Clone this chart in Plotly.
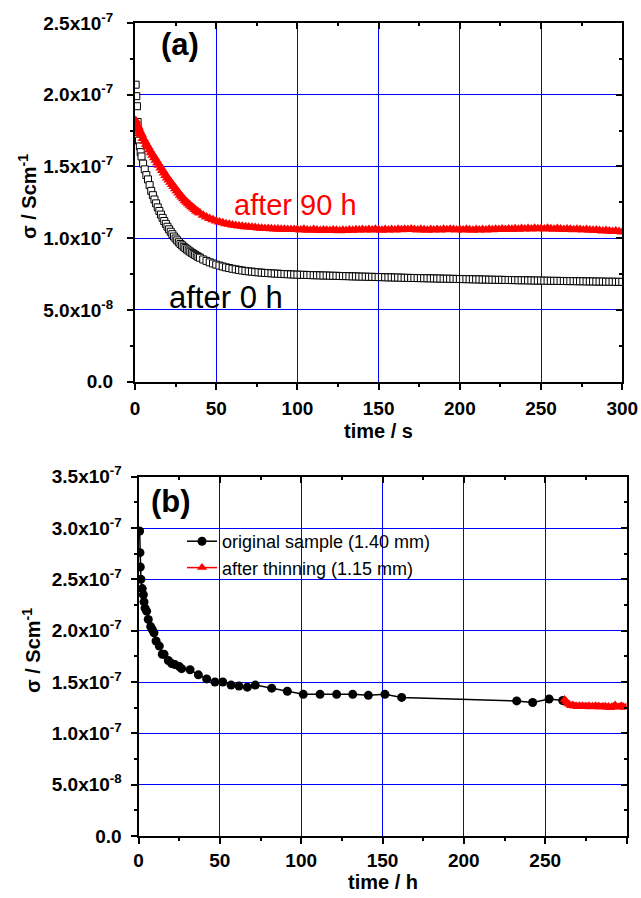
import numpy as np
import plotly.graph_objects as go

# ---------------- data ----------------
# Panel (a): conductivity vs time in seconds, values in units of 1e-7 S/cm
t_s_early = [0.4, 0.8, 1.2, 1.6, 2.0, 2.5, 3.0, 3.5, 4.0, 5.0, 6.0, 7.0, 8.0, 9.0, 10.0]
t_s = np.concatenate([t_s_early, np.arange(11, 41, 1), np.arange(42, 301, 2)])

sigma_0h = [
    2.07, 1.99, 1.92, 1.81, 1.74, 1.68, 1.64, 1.60, 1.57, 1.52, 1.48, 1.44, 1.41, 1.37, 1.33,
    1.300, 1.270, 1.243, 1.215, 1.190, 1.165, 1.142, 1.120, 1.100, 1.080,
    1.062, 1.045, 1.028, 1.012, 0.998, 0.985, 0.972, 0.960, 0.950, 0.940,
    0.931, 0.922, 0.914, 0.906, 0.898, 0.891, 0.884, 0.877, 0.870, 0.864,
    0.852, 0.842, 0.832, 0.824, 0.816,
    0.809, 0.803, 0.797, 0.792, 0.787, 0.783, 0.779, 0.775, 0.772, 0.769,
    0.767, 0.764, 0.762, 0.760, 0.758, 0.757, 0.755, 0.754, 0.753, 0.751,
    0.750, 0.749, 0.748, 0.747, 0.746, 0.745, 0.745, 0.744, 0.743, 0.742,
    0.742, 0.741, 0.740, 0.740, 0.739, 0.738, 0.738, 0.737, 0.736, 0.736,
    0.735, 0.734, 0.734, 0.733, 0.732, 0.732, 0.731, 0.731, 0.730, 0.729,
    0.729, 0.728, 0.727, 0.727, 0.726, 0.726, 0.725, 0.724, 0.724, 0.723,
    0.723, 0.722, 0.722, 0.721, 0.721, 0.720, 0.720, 0.719, 0.719, 0.718,
    0.718, 0.717, 0.717, 0.716, 0.716, 0.715, 0.715, 0.714, 0.714, 0.713,
    0.713, 0.712, 0.712, 0.711, 0.711, 0.710, 0.710, 0.710, 0.709, 0.709,
    0.708, 0.708, 0.707, 0.707, 0.707, 0.706, 0.706, 0.705, 0.705, 0.705,
    0.704, 0.704, 0.703, 0.703, 0.703, 0.702, 0.702, 0.701, 0.701, 0.701,
    0.700, 0.700, 0.700, 0.699, 0.699, 0.699, 0.698, 0.698, 0.698, 0.697,
    0.697, 0.697, 0.696, 0.696, 0.696,
]

sigma_90h = [
    1.82, 1.80, 1.79, 1.78, 1.77, 1.755, 1.74, 1.73, 1.72, 1.695, 1.675, 1.655, 1.635, 1.615, 1.595,
    1.578, 1.560, 1.543, 1.525, 1.508, 1.490, 1.472, 1.455, 1.437, 1.420,
    1.405, 1.390, 1.375, 1.360, 1.345, 1.330, 1.315, 1.300, 1.287, 1.275,
    1.262, 1.250, 1.240, 1.230, 1.220, 1.210, 1.200, 1.190, 1.182, 1.175,
    1.160, 1.148, 1.138, 1.128, 1.120,
    1.113, 1.107, 1.101, 1.097, 1.093, 1.089, 1.086, 1.083, 1.080, 1.078,
    1.076, 1.074, 1.072, 1.070, 1.068, 1.067, 1.066, 1.065, 1.064, 1.063,
    1.062, 1.061, 1.060, 1.060, 1.060, 1.057, 1.062, 1.058, 1.055, 1.060,
    1.057, 1.054, 1.058, 1.056, 1.053, 1.057, 1.055, 1.052, 1.056, 1.054,
    1.058, 1.055, 1.059, 1.057, 1.060, 1.057, 1.061, 1.058, 1.062, 1.059,
    1.056, 1.060, 1.057, 1.061, 1.058, 1.062, 1.059, 1.063, 1.060, 1.064,
    1.061, 1.058, 1.062, 1.059, 1.056, 1.060, 1.057, 1.061, 1.058, 1.062,
    1.059, 1.063, 1.060, 1.057, 1.061, 1.058, 1.062, 1.059, 1.056, 1.060,
    1.057, 1.061, 1.058, 1.062, 1.059, 1.063, 1.060, 1.064, 1.061, 1.065,
    1.062, 1.066, 1.063, 1.067, 1.064, 1.068, 1.065, 1.069, 1.066, 1.068,
    1.065, 1.069, 1.066, 1.063, 1.067, 1.064, 1.061, 1.065, 1.062, 1.059,
    1.063, 1.060, 1.057, 1.061, 1.058, 1.055, 1.058, 1.054, 1.051, 1.054,
    1.050, 1.047, 1.050, 1.046, 1.044,
]

# Panel (b): conductivity vs time in hours, values in units of 1e-7 S/cm
t_h_orig = [0.7, 0.9, 1.1, 1.5, 2.3, 3.0, 3.4, 4.0, 5.0, 6.0, 7.5, 8.5, 9.5, 10.8, 12.8,
            14.6, 15.7, 18.3, 20.4, 22.4, 25.1, 26.5, 31.7, 36.8, 41.9, 47.0, 51.8, 56.9,
            61.8, 66.9, 71.8, 81.9, 91.5, 101.3, 111.6, 121.8, 131.7, 141.3, 151.5, 161.8,
            232.5, 242.3, 252.4, 260.8]
sigma_orig = [2.97, 2.76, 2.62, 2.50, 2.41, 2.35, 2.28, 2.22, 2.19, 2.11, 2.04, 2.01, 1.98, 1.90, 1.85,
              1.77, 1.77, 1.71, 1.68, 1.67, 1.65, 1.63, 1.62, 1.57, 1.53, 1.50, 1.50, 1.47,
              1.46, 1.45, 1.47, 1.44, 1.41, 1.38, 1.38, 1.38, 1.38, 1.37, 1.38, 1.35,
              1.316, 1.30, 1.335, 1.32]

t_h_thin = np.arange(262, 301)
sigma_thin = [1.33, 1.31, 1.29, 1.28, 1.27, 1.275, 1.265, 1.27, 1.26, 1.268,
              1.262, 1.27, 1.258, 1.266, 1.26, 1.268, 1.256, 1.264, 1.258, 1.27,
              1.26, 1.266, 1.255, 1.262, 1.258, 1.265, 1.255, 1.262, 1.25, 1.258,
              1.262, 1.275, 1.26, 1.255, 1.262, 1.27, 1.258, 1.252, 1.26]

UNIT = 1e-7

# tick labels
xticks = [0, 50, 100, 150, 200, 250, 300]
yticks_a = [0.0, 0.5, 1.0, 1.5, 2.0, 2.5]
ylabels_a = ["0.0", "5.0x10<sup>-8</sup>", "1.0x10<sup>-7</sup>", "1.5x10<sup>-7</sup>",
             "2.0x10<sup>-7</sup>", "2.5x10<sup>-7</sup>"]
yticks_b = [0.0, 0.5, 1.0, 1.5, 2.0, 2.5, 3.0, 3.5]
ylabels_b = ["0.0", "5.0x10<sup>-8</sup>", "1.0x10<sup>-7</sup>", "1.5x10<sup>-7</sup>",
             "2.0x10<sup>-7</sup>", "2.5x10<sup>-7</sup>", "3.0x10<sup>-7</sup>", "3.5x10<sup>-7</sup>"]

# ---------------- layout geometry ----------------
W, H = 641, 898
FONT = "Liberation Sans"


def px_x(p):
    return p / W


def px_y(p):
    return 1 - p / H


dom_xa = [px_x(135), px_x(622.3)]
dom_ya = [px_y(381.7), px_y(23)]
dom_xb = [px_x(138.5), px_x(626.5)]
dom_yb = [px_y(836), px_y(476.7)]

tickfont = dict(family=FONT, size=19, color="black", weight="bold")
GRID = "#0000FF"


def base_x(domain, anchor, standoff):
    return dict(domain=domain, anchor=anchor, range=[0, 300], tickvals=xticks,
                ticktext=[str(v) for v in xticks], ticks="outside", ticklen=6, tickwidth=1.5,
                tickcolor="black", showline=True, linecolor="black", linewidth=2, mirror=True,
                showgrid=True, gridcolor=GRID, gridwidth=1, zeroline=False,
                tickfont=tickfont, automargin=False, ticklabelstandoff=standoff,
                minor=dict(tickmode="linear", tick0=0, dtick=25, ticks="outside", ticklen=3,
                           tickwidth=1.5, tickcolor="black", showgrid=False))


def base_y(domain, anchor, top, vals, labels, standoff):
    return dict(domain=domain, anchor=anchor, range=[0, top * UNIT],
                tickvals=[v * UNIT for v in vals], ticktext=labels, ticks="outside", ticklen=6,
                tickwidth=1.5, tickcolor="black", showline=True, linecolor="black", linewidth=2,
                mirror=True, showgrid=True, gridcolor=GRID, gridwidth=1, zeroline=False,
                tickfont=tickfont, automargin=False, ticklabelstandoff=standoff,
                minor=dict(tickmode="linear", tick0=0, dtick=0.25 * UNIT, ticks="outside",
                           ticklen=3, tickwidth=1.5, tickcolor="black", showgrid=False))


def twin_x(over, anchor):
    return dict(overlaying=over, anchor=anchor, side="top", range=[0, 300], tickvals=xticks,
                ticks="inside", ticklen=6, tickwidth=1.5, tickcolor="black",
                showticklabels=False, showgrid=False, showline=False, zeroline=False,
                automargin=False,
                minor=dict(tickmode="linear", tick0=0, dtick=25, ticks="inside", ticklen=3,
                           tickwidth=1.5, tickcolor="black", showgrid=False))


def twin_y(over, anchor, top, vals):
    return dict(overlaying=over, anchor=anchor, side="right", range=[0, top * UNIT],
                tickvals=[v * UNIT for v in vals], ticks="inside", ticklen=6, tickwidth=1.5,
                tickcolor="black", showticklabels=False, showgrid=False, showline=False,
                zeroline=False, automargin=False,
                minor=dict(tickmode="linear", tick0=0, dtick=0.25 * UNIT, ticks="inside",
                           ticklen=3, tickwidth=1.5, tickcolor="black", showgrid=False))


fig = go.Figure()

# panel (a)
fig.add_trace(go.Scatter(
    x=t_s, y=np.array(sigma_0h) * UNIT, mode="markers", name="after 0 h", showlegend=False,
    marker=dict(symbol="square", size=7, color="white", line=dict(color="black", width=1)),
    xaxis="x", yaxis="y"))
fig.add_trace(go.Scatter(
    x=t_s, y=np.array(sigma_90h) * UNIT, mode="markers", name="after 90 h", showlegend=False,
    marker=dict(symbol="triangle-up", size=10, color="red", line=dict(width=0)),
    xaxis="x", yaxis="y"))

# panel (b)
fig.add_trace(go.Scatter(
    x=t_h_orig, y=np.array(sigma_orig) * UNIT, mode="lines+markers",
    name="original sample (1.40 mm)",
    line=dict(color="black", width=1.5),
    marker=dict(symbol="circle", size=9, color="black"),
    xaxis="x2", yaxis="y2"))
fig.add_trace(go.Scatter(
    x=t_h_thin, y=np.array(sigma_thin) * UNIT, mode="lines+markers",
    name="after thinning (1.15 mm)",
    line=dict(color="red", width=1.5),
    marker=dict(symbol="triangle-up", size=9, color="red"),
    xaxis="x2", yaxis="y2"))

# empty traces for the inward-ticked top/right frame axes
fig.add_trace(go.Scatter(x=[], y=[], xaxis="x3", yaxis="y3", showlegend=False, hoverinfo="skip"))
fig.add_trace(go.Scatter(x=[], y=[], xaxis="x4", yaxis="y4", showlegend=False, hoverinfo="skip"))


def note(text, x, y, xref, yref, size, color="black", angle=0):
    return dict(text=text, x=x, y=y, xref=xref, yref=yref, showarrow=False,
                xanchor="center", yanchor="middle", textangle=angle,
                font=dict(family=FONT, size=size, color=color))


annotations = [
    note("<b>(a)</b>", 28, 2.35 * UNIT, "x", "y", 31),
    note("<b>(b)</b>", 20, 3.255 * UNIT, "x2", "y2", 31),
    note("after 90 h", 99, 1.234 * UNIT, "x", "y", 29, "red"),
    note("after 0 h", 56, 0.59 * UNIT, "x", "y", 31),
    note("<b>σ / Scm<sup>-1</sup></b>", px_x(27), px_y(197), "paper", "paper", 20, angle=-90),
    note("<b>σ / Scm<sup>-1</sup></b>", px_x(31), px_y(651), "paper", "paper", 20, angle=-90),
    note("<b>time / s</b>", px_x(378.5), px_y(431), "paper", "paper", 20),
    note("<b>time / h</b>", px_x(383), px_y(882), "paper", "paper", 20),
]

fig.update_layout(
    width=W, height=H,
    margin=dict(l=0, r=0, t=0, b=0),
    paper_bgcolor="white", plot_bgcolor="white",
    showlegend=True,
    legend=dict(x=px_x(182), y=px_y(523), xanchor="left", yanchor="top",
                font=dict(family=FONT, size=18, color="black"),
                bgcolor="rgba(0,0,0,0)", borderwidth=0, tracegroupgap=0),
    xaxis=base_x(dom_xa, "y", 2),
    yaxis=base_y(dom_ya, "x", 2.5, yticks_a, ylabels_a, 10),
    xaxis2=base_x(dom_xb, "y2", 0),
    yaxis2=base_y(dom_yb, "x2", 3.5, yticks_b, ylabels_b, 5),
    xaxis3=twin_x("x", "y3"),
    yaxis3=twin_y("y", "x3", 2.5, yticks_a),
    xaxis4=twin_x("x2", "y4"),
    yaxis4=twin_y("y2", "x4", 3.5, yticks_b),
    annotations=annotations,
)

fig.write_html("out.html")
